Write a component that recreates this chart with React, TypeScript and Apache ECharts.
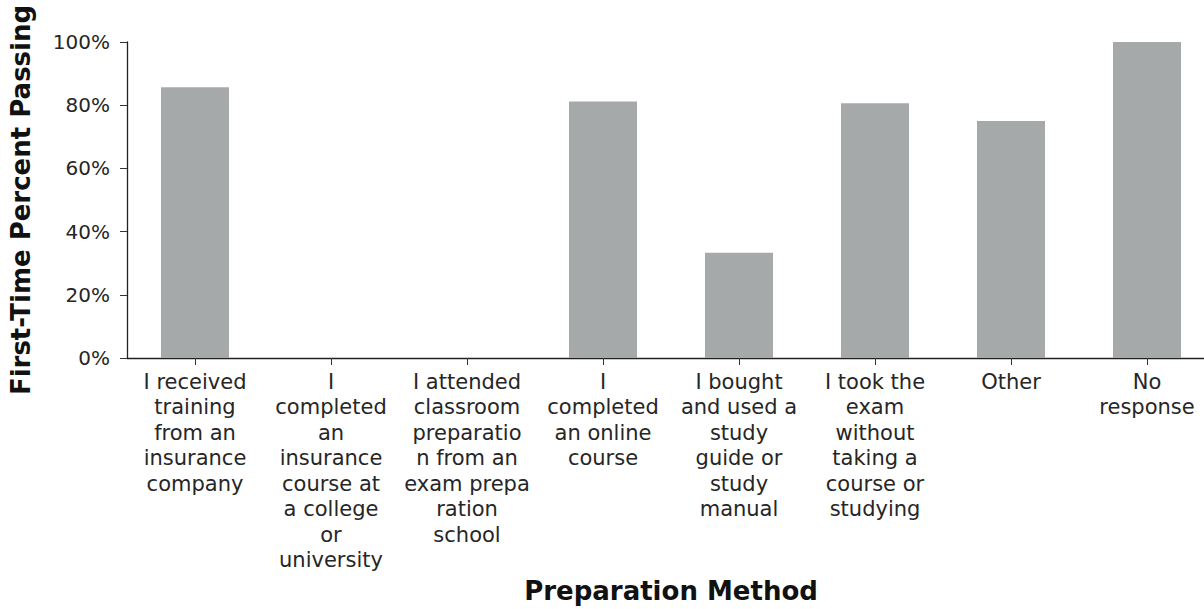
import React, { useEffect, useRef } from "react";
import * as echarts from "echarts";

const categories = [
  "I received\ntraining\nfrom an\ninsurance\ncompany",
  "I\ncompleted\nan\ninsurance\ncourse at\na college\nor\nuniversity",
  "I attended\nclassroom\npreparatio\nn from an\nexam prepa\nration\nschool",
  "I\ncompleted\nan online\ncourse",
  "I bought\nand used a\nstudy\nguide or\nstudy\nmanual",
  "I took the\nexam\nwithout\ntaking a\ncourse or\nstudying",
  "Other",
  "No\nresponse",
];
const passRates = [85.7, 0, 0, 81.2, 33.3, 80.6, 75, 100];
const yTicks = { min: 0, max: 100, interval: 20 };

const FONT = "'DejaVu Sans', sans-serif";

export default function App() {
  const ref = useRef<HTMLDivElement>(null);
  useEffect(() => {
    document.documentElement.style.overflow = "hidden";
    document.body.style.margin = "0";
    document.body.style.overflow = "hidden";
    const chart = echarts.init(ref.current!, null, { renderer: "svg" });
    chart.setOption({
      animation: false,
      grid: { left: 125, right: 1, top: 42, height: 319, containLabel: false },
      xAxis: {
        type: "category",
        data: categories,
        name: "Preparation Method",
        nameLocation: "middle",
        nameGap: 220,
        nameTextStyle: { fontFamily: FONT, fontWeight: "bold", fontSize: 26, color: "#111" },
        axisLine: { lineStyle: { color: "#222", width: 1.3 } },
        axisTick: { show: true, alignWithLabel: true, length: 7, lineStyle: { color: "#333" } },
        axisLabel: {
          interval: 0,
          margin: 11,
          fontFamily: FONT,
          fontSize: 21,
          lineHeight: 25.5,
          color: "#262626",
          align: "center",
        },
      },
      yAxis: {
        type: "value",
        min: yTicks.min,
        max: yTicks.max,
        interval: yTicks.interval,
        name: "First-Time Percent Passing",
        nameLocation: "middle",
        nameGap: 93,
        nameRotate: 90,
        nameTextStyle: { fontFamily: FONT, fontWeight: "bold", fontSize: 26, color: "#111" },
        axisLine: { show: true, lineStyle: { color: "#222", width: 1.3 } },
        axisTick: { show: true, length: 7, lineStyle: { color: "#333" } },
        splitLine: { show: false },
        axisLabel: {
          formatter: "{value}%",
          margin: 17,
          fontFamily: FONT,
          fontSize: 20,
          color: "#262626",
        },
      },
      series: [
        {
          type: "bar",
          data: passRates,
          barWidth: "50%",
          itemStyle: { color: "#a6a9aa" },
        },
      ],
    });
    return () => chart.dispose();
  }, []);
  return (
    <div
      ref={ref}
      style={{ position: "absolute", left: 0, top: 0, width: 1216, height: 609 }}
    />
  );
}
